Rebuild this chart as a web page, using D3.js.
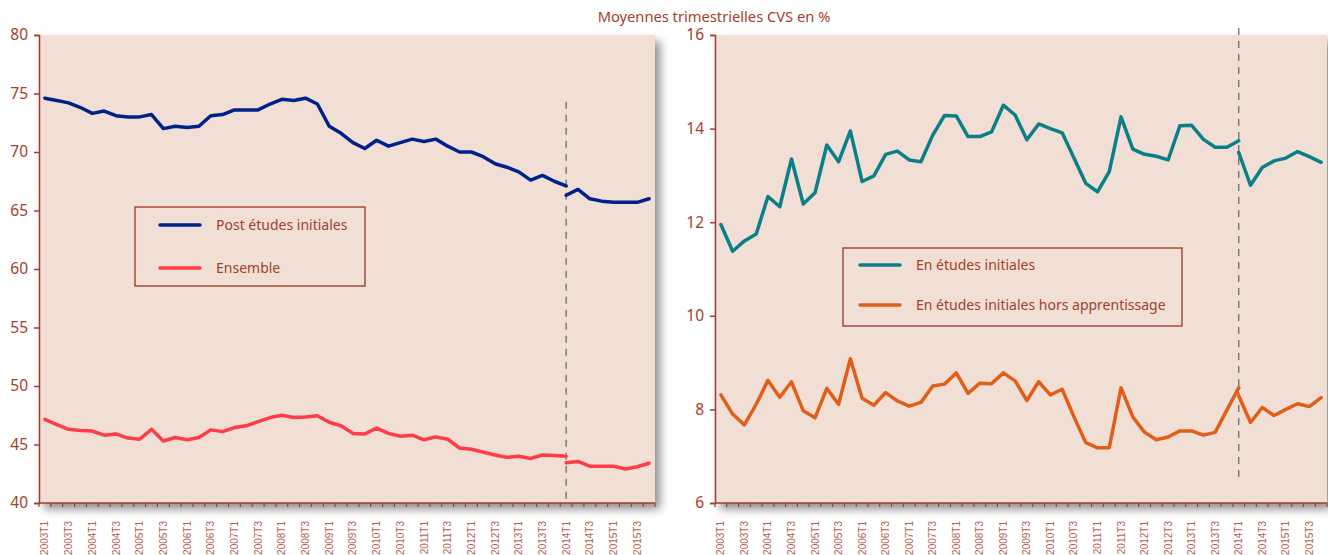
<!DOCTYPE html>
<html>
<head>
<meta charset="utf-8">
<script src="https://cdn.jsdelivr.net/npm/d3@7"></script>
<style>
  body { margin: 0; background: #fff; }
  svg { display: block; }
</style>
</head>
<body>
<script>
// quarters 2003T1 .. 2015T4
const years = [2003, 2004, 2005, 2006, 2007, 2008, 2009, 2010, 2011, 2012, 2013, 2014, 2015]
const quarters = years.flatMap(y => [1, 2, 3, 4].map(q => `${y}T${q}`))

// left panel: old series 2003T1..2014T1, new series 2014T1..2015T4
const postEtudes = [74.6, 74.4, 74.2, 73.8, 73.3, 73.5, 73.1, 73.0, 73.0, 73.2,
  72.0, 72.2, 72.1, 72.2, 73.1, 73.2, 73.6, 73.6, 73.6, 74.1,
  74.5, 74.4, 74.6, 74.1, 72.2, 71.6, 70.8, 70.3, 71.0, 70.5,
  70.8, 71.1, 70.9, 71.1, 70.5, 70.0, 70.0, 69.6, 69.0, 68.7,
  68.3, 67.6, 68.0, 67.5, 67.1]
const postEtudesNew = [66.3, 66.8, 66.0, 65.8, 65.7, 65.7, 65.7, 66.0]
const ensemble = [47.15, 46.7, 46.3, 46.2, 46.15, 45.8, 45.9, 45.55, 45.45, 46.3,
  45.3, 45.6, 45.4, 45.6, 46.25, 46.1, 46.45, 46.6, 46.95, 47.3,
  47.5, 47.3, 47.35, 47.45, 46.9, 46.6, 45.95, 45.9, 46.4, 45.95,
  45.7, 45.8, 45.4, 45.65, 45.45, 44.7, 44.6, 44.35, 44.1, 43.9,
  44.0, 43.8, 44.1, 44.05, 44.0]
const ensembleNew = [43.45, 43.55, 43.15, 43.15, 43.15, 42.9, 43.1, 43.4]

// right panel
const enEtudes = [11.95, 11.38, 11.6, 11.75, 12.55, 12.33, 13.35, 12.39, 12.63, 13.65,
  13.29, 13.95, 12.87, 12.99, 13.45, 13.52, 13.33, 13.29, 13.86, 14.28,
  14.27, 13.83, 13.83, 13.93, 14.5, 14.29, 13.76, 14.1, 14.0, 13.91,
  13.37, 12.83, 12.65, 13.08, 14.25, 13.56, 13.45, 13.41, 13.33, 14.06,
  14.07, 13.77, 13.6, 13.6, 13.74]
const enEtudesNew = [13.49, 12.79, 13.17, 13.31, 13.37, 13.51, 13.4, 13.28]
const horsApprent = [8.31, 7.9, 7.67, 8.11, 8.62, 8.26, 8.59, 7.97, 7.82, 8.45,
  8.11, 9.08, 8.24, 8.09, 8.36, 8.18, 8.07, 8.15, 8.5, 8.54,
  8.78, 8.34, 8.56, 8.55, 8.78, 8.61, 8.19, 8.59, 8.31, 8.43,
  7.84, 7.29, 7.18, 7.18, 8.46, 7.84, 7.51, 7.35, 7.41, 7.54,
  7.54, 7.45, 7.51, 7.99, 8.46]
const horsApprentNew = [8.29, 7.72, 8.04, 7.87, 8.0, 8.12, 8.06, 8.25]

const leftTicks = [40, 45, 50, 55, 60, 65, 70, 75, 80]
const rightTicks = [6, 8, 10, 12, 14, 16]
const breakQuarter = '2014T1'

const W = 1328
const H = 555
const axisColor = '#a13d28'
const textColor = '#a3402b'
const bg = '#f1dfd6'
const font = '"Noto Sans", "Open Sans", sans-serif'

const svg = d3.select('body').append('svg')
  .attr('width', W)
  .attr('height', H)

const defs = svg.append('defs')
defs.append('filter')
  .attr('id', 'shadow')
  .attr('x', -0.05).attr('y', -0.05).attr('width', 1.12).attr('height', 1.15)
  .append('feDropShadow')
  .attr('dx', 5).attr('dy', 6)
  .attr('stdDeviation', 5)
  .attr('flood-color', '#000')
  .attr('flood-opacity', 0.45)

svg.append('text')
  .text('Moyennes trimestrielles CVS en %')
  .attr('x', 714)
  .attr('y', 22)
  .attr('text-anchor', 'middle')
  .attr('font-family', font)
  .attr('font-size', 14.7)
  .attr('fill', textColor)

function panel (opts) {
  const x = d3.scaleBand().domain(quarters).range([opts.left, opts.right])
  const y = d3.scaleLinear().domain(opts.domain).range([503, 35])
  const g = svg.append('g')

  g.append('rect')
    .attr('x', opts.left)
    .attr('y', 35)
    .attr('width', opts.right - opts.left)
    .attr('height', 503 - 35)
    .attr('fill', bg)
    .attr('filter', 'url(#shadow)')

  // y axis
  g.append('g')
    .attr('transform', `translate(${opts.left},0)`)
    .call(d3.axisLeft(y).tickValues(opts.ticks).tickSize(5).tickPadding(6))
    .call(a => a.selectAll('.domain, .tick line').attr('stroke', axisColor).attr('stroke-width', 1.5))
    .call(a => a.selectAll('.tick text')
      .attr('fill', textColor)
      .attr('font-family', font)
      .attr('font-size', 15.5))

  // x axis : ticks on band boundaries, labels every second quarter
  const xa = g.append('g').attr('transform', 'translate(0,503)')
  xa.append('line')
    .attr('x1', opts.left).attr('x2', opts.right)
    .attr('stroke', axisColor).attr('stroke-width', 1.5)
  xa.selectAll('line.tk')
    .data(quarters.concat(['end']))
    .join('line')
    .attr('class', 'tk')
    .attr('x1', (d, i) => opts.left + i * x.step())
    .attr('x2', (d, i) => opts.left + i * x.step())
    .attr('y1', 0).attr('y2', 4)
    .attr('stroke', axisColor).attr('stroke-width', 1.2)
  xa.selectAll('text')
    .data(quarters.filter((d, i) => i % 2 === 0))
    .join('text')
    .text(d => d)
    .attr('transform', d => `translate(${x(d) + x.bandwidth() / 2 + 3.5},18) rotate(-90)`)
    .attr('text-anchor', 'end')
    .attr('font-family', '"Liberation Sans", Arial, sans-serif')
    .attr('font-size', 10)
    .attr('fill', '#b4604f')

  // break line
  g.append('line')
    .attr('x1', x(breakQuarter) + x.bandwidth() / 2)
    .attr('x2', x(breakQuarter) + x.bandwidth() / 2)
    .attr('y1', y(opts.breakRange[0]))
    .attr('y2', y(opts.breakRange[1]))
    .attr('stroke', '#6b6b6b')
    .attr('stroke-width', 1.3)
    .attr('stroke-dasharray', '7,6')

  const line = d3.line()
    .x(d => x(d.q) + x.bandwidth() / 2)
    .y(d => y(d.v))

  const startNew = quarters.indexOf(breakQuarter)
  opts.series.forEach(s => {
    const oldPts = s.values.map((v, i) => ({ q: quarters[i], v }))
    const newPts = s.newValues.map((v, i) => ({ q: quarters[startNew + i], v }))
    ;[oldPts, newPts].forEach(pts => {
      g.append('path')
        .attr('d', line(pts))
        .attr('fill', 'none')
        .attr('stroke', s.color)
        .attr('stroke-width', 3.5)
        .attr('stroke-linejoin', 'round')
        .attr('stroke-linecap', 'round')
    })
  })

  // legend
  const lg = g.append('g').attr('transform', `translate(${opts.legend.x},${opts.legend.y})`)
  lg.append('rect')
    .attr('width', opts.legend.w)
    .attr('height', opts.legend.h)
    .attr('fill', 'none')
    .attr('stroke', '#9b3322')
    .attr('stroke-width', 1.3)
  opts.series.forEach((s, i) => {
    const yy = opts.legend.rows[i]
    lg.append('line')
      .attr('x1', opts.legend.lx).attr('x2', opts.legend.lx + 40)
      .attr('y1', yy).attr('y2', yy)
      .attr('stroke', s.color)
      .attr('stroke-width', 3.5)
      .attr('stroke-linecap', 'round')
    lg.append('text')
      .text(s.name)
      .attr('x', opts.legend.tx)
      .attr('y', yy + 5)
      .attr('font-family', font)
      .attr('font-size', 14)
      .attr('fill', textColor)
  })
}

panel({
  left: 39,
  right: 655,
  domain: [40, 80],
  ticks: leftTicks,
  breakRange: [74.3, 40],
  series: [
    { name: 'Post études initiales', values: postEtudes, newValues: postEtudesNew, color: '#00218a' },
    { name: 'Ensemble', values: ensemble, newValues: ensembleNew, color: '#ff3b47' }
  ],
  legend: { x: 135, y: 207, w: 230, h: 79, lx: 25, tx: 81, rows: [18, 61] }
})

panel({
  left: 715,
  right: 1327,
  domain: [6, 16],
  ticks: rightTicks,
  breakRange: [16.15, 6.5],
  series: [
    { name: 'En études initiales', values: enEtudes, newValues: enEtudesNew, color: '#0b7f88' },
    { name: 'En études initiales hors apprentissage', values: horsApprent, newValues: horsApprentNew, color: '#e05e17' }
  ],
  legend: { x: 843, y: 248, w: 339, h: 78, lx: 17, tx: 73, rows: [17, 57] }
})
</script>
</body>
</html>
